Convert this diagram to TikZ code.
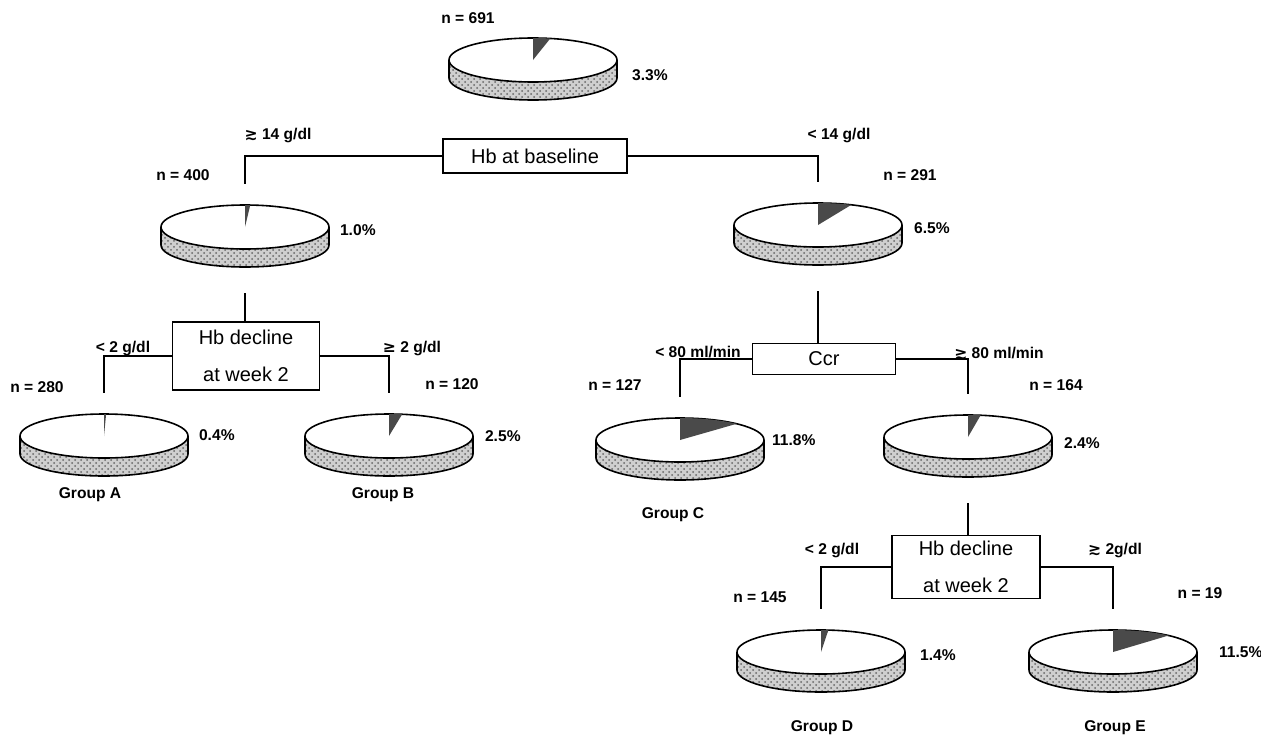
\documentclass[tikz,border=0pt]{standalone}
\usepackage{fontspec}
\setsansfont{Liberation Sans}
\newfontfamily\symfont{DejaVu Sans}
\usetikzlibrary{patterns, positioning}
\definecolor{ww}{HTML}{4A4A4A}
\definecolor{ss}{HTML}{CFCFCF}
\newcommand{\gsim}{{\symfont ≳}}
\newcommand{\gequ}{{\symfont ≥}}

\begin{document}
\begin{tikzpicture}[x=0.5pt, y=-0.5pt, font=\sffamily,
    crit/.style={draw, line width=0.8pt, align=center, inner sep=0pt, font=\sffamily\fontsize{10}{18.5}\selectfont},
    lbl/.style={font=\sffamily\bfseries\fontsize{7.8}{9}\selectfont},
    pct/.style={lbl, anchor=west},
    link/.style={line width=0.8pt},
    pics/pie/.style={code={
      \fill[ss, postaction={pattern=crosshatch dots, pattern color=black!60}]
        (-42pt,0pt) -- (-42pt,-9pt) arc[start angle=180, end angle=360, x radius=42pt, y radius=11pt]
        -- (42pt,0pt) arc[start angle=0, end angle=-180, x radius=42pt, y radius=11pt] -- cycle;
      \draw[link] (-42pt,0pt) -- (-42pt,-9pt) arc[start angle=180, end angle=360, x radius=42pt, y radius=11pt] -- (42pt,0pt);
      \draw[link, fill=white] (0pt,0pt) ellipse[x radius=42pt, y radius=11pt];
      \fill[ww] (0pt,0pt) -- (0pt,11pt) arc[start angle=90, end angle={90-3.6*#1}, x radius=42pt, y radius=11pt] -- cycle;
      \coordinate (-top) at (0pt,21.5pt);
      \coordinate (-bot) at (0pt,-33pt);
    }}]
  \useasboundingbox (0,0) rectangle (1261,739);

  \node[lbl] (n0) at (468,18) {n = 691};
  \pic (p0) at (533,60) {pie=3.3};
  \node[pct] (c0) at (625,75) {3.3\%};
  \node[crit, minimum width=92pt, minimum height=17pt] (base) at (535,156) {Hb at baseline};
  \node[lbl] (ge14) at (278,135) {\gsim\ 14 g/dl};
  \node[lbl] (lt14) at (839,135) {< 14 g/dl};

  \node[lbl] (n1) at (183,175) {n = 400};
  \pic (p1) at (245,227) {pie=1.0};
  \node[pct] (c1) at (333,230) {1.0\%};
  \node[lbl] (n2) at (910,175) {n = 291};
  \pic (p2) at (818,225) {pie=6.5};
  \node[pct] (c2) at (907,228) {6.5\%};

  \node[crit, minimum width=73.5pt, minimum height=34pt] (hbw1) at (246,356) {Hb decline\\at week 2};
  \node[lbl] (lt2a) at (123,348) {< 2 g/dl};
  \node[lbl] (ge2a) at (412,348) {\gequ\ 2 g/dl};
  \node[lbl] (nA) at (37,387) {n = 280};
  \node[lbl] (nB) at (452,384) {n = 120};
  \pic (pA) at (104,436) {pie=0.4};
  \node[pct] (cA) at (192,435) {0.4\%};
  \pic (pB) at (389,436) {pie=2.5};
  \node[pct] (cB) at (478,436) {2.5\%};
  \node[lbl] (gA) at (90,495) {Group A};
  \node[lbl] (gB) at (383,495) {Group B};

  \node[crit, minimum width=71.5pt, minimum height=15.5pt] (ccr) at (824,359) {Ccr};
  \node[lbl] (lt80) at (698,352) {< 80 ml/min};
  \node[lbl] (ge80) at (999,353) {\gsim\ 80 ml/min};
  \node[lbl] (nC) at (615,385) {n = 127};
  \node[lbl] (n4) at (1056,385) {n = 164};
  \pic (pC) at (680,440) {pie=11.8};
  \node[pct] (cC) at (765,440) {11.8\%};
  \pic (p4) at (968,437) {pie=2.4};
  \node[pct] (c4) at (1057,443) {2.4\%};
  \node[lbl] (gC) at (673,515) {Group C};

  \node[crit, minimum width=74pt, minimum height=31.5pt] (hbw2) at (966,567) {Hb decline\\at week 2};
  \node[lbl] (lt2b) at (832,550) {< 2 g/dl};
  \node[lbl] (ge2b) at (1115,550) {\gsim\ 2g/dl};
  \node[lbl] (nD) at (760,597) {n = 145};
  \node[lbl] (nE) at (1200,593) {n = 19};
  \pic (pD) at (821,652) {pie=1.4};
  \node[pct] (cD) at (913,655) {1.4\%};
  \pic (pE) at (1113,652) {pie=11.5};
  \node[pct] (cE) at (1212,652) {11.5\%};
  \node[lbl] (gD) at (822,728) {Group D};
  \node[lbl] (gE) at (1115,728) {Group E};

  \draw[link] (base.west) -| (p1-top);
  \draw[link] (base.east) -| (p2-top);
  \draw[link] (p1-bot) -- (p1-bot |- hbw1.north);
  \draw[link] (hbw1.west) -| (pA-top);
  \draw[link] (hbw1.east) -| (pB-top);
  \draw[link] (p2-bot) -- (p2-bot |- ccr.north);
  \draw[link] (ccr.west) -| (pC-top);
  \draw[link] (ccr.east) -| (p4-top);
  \draw[link] (p4-bot) -- (p4-bot |- hbw2.north);
  \draw[link] (hbw2.west) -| (pD-top);
  \draw[link] (hbw2.east) -| (pE-top);
\end{tikzpicture}
\end{document}
